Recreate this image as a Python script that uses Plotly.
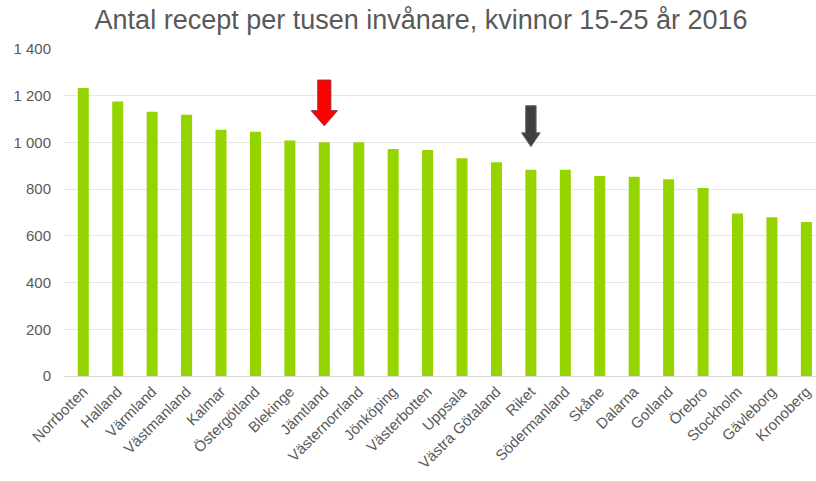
import plotly.graph_objects as go

categories = ["Norrbotten", "Halland", "Värmland", "Västmanland", "Kalmar", "Östergötland",
              "Blekinge", "Jämtland", "Västernorrland", "Jönköping", "Västerbotten", "Uppsala",
              "Västra Götaland", "Riket", "Södermanland", "Skåne", "Dalarna", "Gotland",
              "Örebro", "Stockholm", "Gävleborg", "Kronoberg"]
values = [1233, 1175, 1131, 1118, 1054, 1046, 1008, 1001, 1001, 972, 968, 932,
          915, 883, 883, 856, 853, 842, 805, 696, 680, 659]
y_ticks = [0, 200, 400, 600, 800, 1000, 1200, 1400]
y_ticktext = ["0", "200", "400", "600", "800", "1 000", "1 200", "1 400"]

highlight_red = "Jämtland"
highlight_gray = "Riket"

fig = go.Figure()
fig.add_trace(go.Bar(x=list(range(len(categories))), y=values,
                     marker=dict(color="#96D400", line=dict(width=0)),
                     width=0.32, hoverinfo="y"))


def block_arrow(cat, top, neck, tip, shaft_hw, head_hw, fill, outline):
    c = categories.index(cat)
    path = (f"M {c - shaft_hw} {top} L {c + shaft_hw} {top} L {c + shaft_hw} {neck} "
            f"L {c + head_hw} {neck} L {c} {tip} L {c - head_hw} {neck} "
            f"L {c - shaft_hw} {neck} Z")
    fig.add_shape(type="path", path=path, xref="x", yref="y",
                  fillcolor=fill, line=dict(color=outline, width=1), layer="above")


block_arrow(highlight_red, 1267, 1136, 1071, 0.19, 0.38, "#FF0000", "#9A3030")
block_arrow(highlight_gray, 1157, 1041, 982, 0.15, 0.27, "#404040", "#606060")

fig.update_layout(
    width=816, height=481,
    margin=dict(l=64, r=0, t=49, b=105),
    paper_bgcolor="white", plot_bgcolor="white",
    title=dict(text="Antal recept per tusen invånare, kvinnor 15-25 år 2016",
               x=0.516, xanchor="center", y=0.96, yanchor="middle",
               font=dict(family="Liberation Sans, Arial", size=27, color="#595959")),
    font=dict(family="Liberation Sans, Arial", size=15, color="#595959"),
    showlegend=False,
)
fig.update_xaxes(range=[-0.56, len(categories) - 0.72], tickvals=list(range(len(categories))),
                 ticktext=categories, tickangle=-45, showline=True, linecolor="#D9D9D9",
                 linewidth=1, ticks="", automargin=False, showgrid=False, zeroline=False,
                 tickfont=dict(size=15, color="#595959"))
fig.update_yaxes(range=[0, 1400], tickvals=y_ticks, ticktext=y_ticktext,
                 showgrid=True, gridcolor="#E6E6E6", gridwidth=1, zeroline=False,
                 ticks="outside", ticklen=9, tickcolor="rgba(0,0,0,0)", automargin=False,
                 tickfont=dict(size=15, color="#595959"))

fig.write_html("out.html", config={"displayModeBar": False},
               post_script="document.body.style.margin='0px';")
